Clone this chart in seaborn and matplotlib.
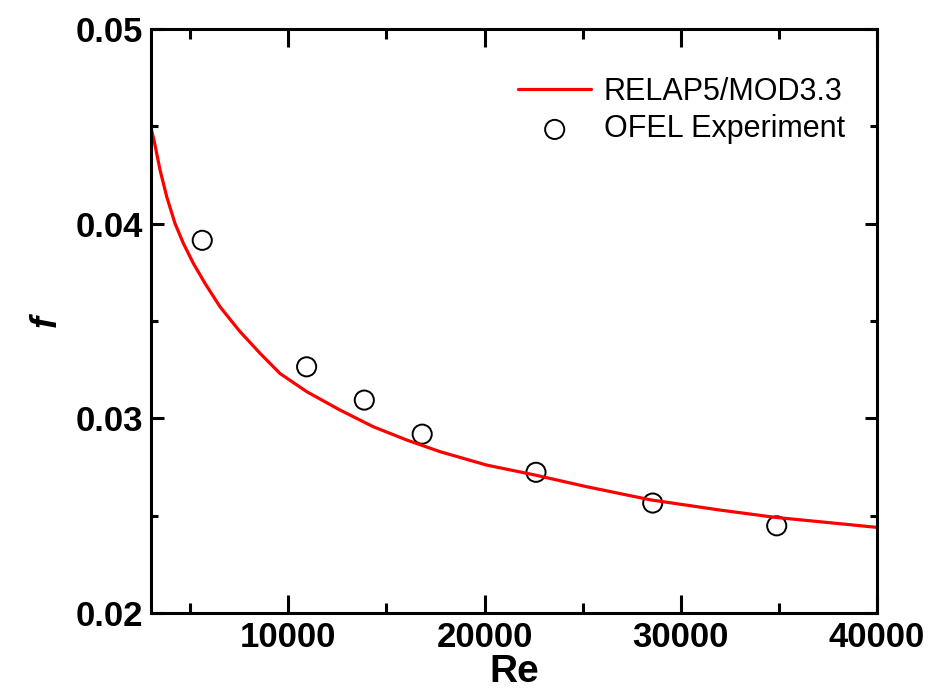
import numpy as np
import pandas as pd
import seaborn as sns
import matplotlib.pyplot as plt
from matplotlib.ticker import MultipleLocator

# RELAP5/MOD3.3 curve
re_model = [3000, 3150, 3460, 3800, 4220, 4650, 5160, 5750, 6520, 7500, 8560, 9570,
            10940, 12630, 14330, 16030, 17730, 20110, 22570, 25200, 28480, 32000, 34770, 40000]
f_model = [0.0449, 0.0443, 0.04276, 0.04139, 0.04002, 0.03899, 0.03796, 0.03694, 0.03573,
           0.03450, 0.03334, 0.03231, 0.03137, 0.03043, 0.02957, 0.02889, 0.02829, 0.02760,
           0.02709, 0.02649, 0.02581, 0.02529, 0.02492, 0.02440]

# OFEL experiment points
re_exp = [5610, 10930, 13870, 16820, 22620, 28570, 34890]
f_exp = [0.03915, 0.03265, 0.03094, 0.02919, 0.02723, 0.02565, 0.02448]

model = pd.DataFrame({"Re": re_model, "f": f_model})
exp = pd.DataFrame({"Re": re_exp, "f": f_exp})

sns.set_style("ticks")
plt.rcParams['font.family'] = ['Liberation Sans', 'DejaVu Sans']
plt.rcParams['text.color'] = 'black'
plt.rcParams['axes.labelcolor'] = 'black'
plt.rcParams['axes.edgecolor'] = 'black'
plt.rcParams['xtick.color'] = 'black'
plt.rcParams['ytick.color'] = 'black'

fig = plt.figure(figsize=(9.3, 6.94), dpi=100)
ax = fig.add_axes([0.1624, 0.1167, 0.7806, 0.8413])

sns.lineplot(data=model, x="Re", y="f", color="#ff0000", linewidth=2.3,
             label="RELAP5/MOD3.3", ax=ax)
sns.scatterplot(data=exp, x="Re", y="f", marker="o", s=190, facecolor="none",
                edgecolor="black", linewidth=1.4, label="OFEL Experiment", ax=ax)

ax.set_xlim(3000, 40000)
ax.set_ylim(0.02, 0.05)
ax.xaxis.set_major_locator(MultipleLocator(10000))
ax.xaxis.set_minor_locator(MultipleLocator(5000))
ax.yaxis.set_major_locator(MultipleLocator(0.01))
ax.yaxis.set_minor_locator(MultipleLocator(0.005))

for s in ax.spines.values():
    s.set_visible(True)
    s.set_linewidth(2.2)
    s.set_color('black')

ax.tick_params(axis='both', which='both', direction='in', top=True, right=True,
               width=2.2, colors='black')
ax.tick_params(axis='x', which='major', length=13, pad=6)
ax.tick_params(axis='x', which='minor', length=7)
ax.tick_params(axis='y', which='major', length=9, pad=6)
ax.tick_params(axis='y', which='minor', length=5)

for lab in ax.get_xticklabels():
    lab.set_fontweight('bold')
    lab.set_fontsize(25)
for lab in ax.get_yticklabels():
    lab.set_fontweight('bold')
    lab.set_fontsize(25)

ax.set_xlabel("Re", fontsize=28, fontweight='bold', labelpad=0)
ax.set_ylabel("f", fontsize=26, fontweight='bold', style='italic', labelpad=8)

leg = ax.legend(loc='upper right', bbox_to_anchor=(0.985, 0.955), frameon=False,
                fontsize=22, handlelength=2.4, handletextpad=0.4,
                labelspacing=0.25, borderaxespad=0.3)
for t in leg.get_texts():
    t.set_color('black')
for h in leg.legend_handles:
    if hasattr(h, 'set_sizes'):
        h.set_sizes([190])

plt.savefig("out.png", dpi=100)
